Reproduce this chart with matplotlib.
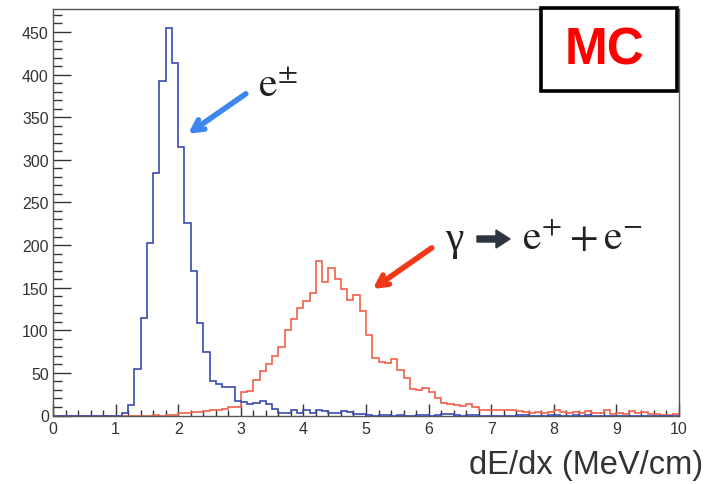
import numpy as np
import matplotlib
matplotlib.use("Agg")
import matplotlib.pyplot as plt
from matplotlib.patches import Rectangle, FancyArrow
from matplotlib.ticker import MultipleLocator

# ---- data (dE/dx histograms, 100 bins from 0 to 10 MeV/cm) ----
bin_edges = np.linspace(0, 10, 101)

electron_counts = [
    0, 0, 0, 0, 0, 0, 0, 0, 0, 0,
    0, 3, 12, 54, 114, 203, 285, 393, 455, 414,
    315, 226, 170, 109, 74, 41, 37, 34, 33, 17,
    16, 14, 15, 17, 13, 8, 3, 3, 6, 3,
    6, 3, 6, 5, 3, 3, 5, 4, 2, 2,
    1, 0, 1, 1, 0, 1, 0, 0, 1, 1,
    0, 1, 2, 2, 1, 0, 1, 1, 0, 0,
    0, 0, 0, 0, 1, 1, 0, 0, 0, 1,
    1, 0, 0, 1, 0, 1, 0, 0, 0, 0,
    0, 0, 0, 0, 0, 0, 0, 0, 0, 0,
]

gamma_counts = [
    0, 0, 0, 0, 0, 0, 0, 0, 0, 0,
    0, 0, 0, 0, 0, 0, 1, 0, 1, 1,
    3, 3, 4, 4, 5, 6, 6, 8, 10, 10,
    27, 29, 42, 52, 60, 70, 80, 100, 113, 126,
    134, 144, 181, 157, 173, 160, 149, 136, 141, 123,
    95, 67, 63, 62, 66, 53, 44, 31, 30, 32,
    27, 21, 15, 13, 12, 11, 14, 10, 6, 7,
    7, 7, 7, 6, 5, 4, 3, 4, 3, 4,
    6, 4, 3, 4, 3, 5, 3, 3, 7, 2,
    3, 2, 5, 3, 4, 2, 2, 1, 1, 2,
]

x_ticks = [0, 1, 2, 3, 4, 5, 6, 7, 8, 9, 10]
y_ticks = [0, 50, 100, 150, 200, 250, 300, 350, 400, 450]
x_label = "dE/dx (MeV/cm)"

plt.rcParams["mathtext.fontset"] = "stix"

# ---- figure ----
W, H = 705, 485
fig = plt.figure(figsize=(W / 100, H / 100), dpi=100)
L, R, B, T = 53, 679, 416.5, 10
ax = fig.add_axes([L / W, 1 - B / H, (R - L) / W, (B - T) / H])

blue = "#3a4cb0"
red = "#f0614a"
ax.stairs(electron_counts, bin_edges, color=blue, lw=1.2, zorder=3)
ax.stairs(gamma_counts, bin_edges, color=red, lw=1.2, zorder=2)

ax.set_xlim(0, 10)
ax.set_ylim(0, 477)
ax.set_xticks(x_ticks)
ax.set_yticks(y_ticks)
ax.xaxis.set_minor_locator(MultipleLocator(0.2))
ax.yaxis.set_minor_locator(MultipleLocator(10))
tick_col = "#333333"
ax.tick_params(axis="x", which="major", direction="in", length=8.5, width=1.0,
               color="#333333", labelsize=11.5, labelcolor=tick_col, pad=4)
ax.tick_params(axis="x", which="minor", direction="in", length=4, width=1.0, color="#333333")
ax.tick_params(axis="y", which="major", direction="in", length=13, width=1.0,
               color="#333333", labelsize=11.5, labelcolor=tick_col, pad=3)
ax.tick_params(axis="y", which="minor", direction="in", length=6.5, width=1.0, color="#333333")
for lab in ax.get_xticklabels() + ax.get_yticklabels():
    lab.set_fontfamily("Liberation Sans")
for s in ax.spines.values():
    s.set_color("#555555")
    s.set_linewidth(1.0)

# x-axis label
fig.text(703 / W, 1 - 466 / H, x_label, ha="right", va="center",
         fontsize=23.5, color="#333333", family="Liberation Sans")

# annotation arrows
ax.annotate("", xy=(2.16, 330.6), xytext=(3.08, 377.5),
            arrowprops=dict(arrowstyle="->,head_length=0.75,head_width=0.4",
                            color="#3d86f0", lw=4, shrinkA=0, shrinkB=0,
                            capstyle="round", joinstyle="round"), zorder=5)
ax.annotate("", xy=(5.11, 148.5), xytext=(6.05, 196.7),
            arrowprops=dict(arrowstyle="->,head_length=0.75,head_width=0.4",
                            color="#f03818", lw=4, shrinkA=0, shrinkB=0,
                            capstyle="round", joinstyle="round"), zorder=5)

fig.text(258 / W, 1 - 97 / H, r"$\mathrm{e}^{\pm}$", fontsize=30, color="#222222",
         ha="left", va="baseline")
fig.text(445 / W, 1 - 250 / H, "γ", fontsize=30, color="#222222",
         family="Liberation Serif", ha="left", va="baseline")
fig.patches.append(FancyArrow(
    477 / W, 1 - 240 / H, 33 / W, 0, width=6 / H, head_width=18 / H,
    head_length=14 / W, length_includes_head=True, color="#2e3340",
    transform=fig.transFigure, figure=fig))
fig.text(522 / W, 1 - 250 / H, r"$\mathrm{e}^{+} + \mathrm{e}^{-}$", fontsize=30,
         color="#222222", ha="left", va="baseline")

# MC box
box = Rectangle((541 / W, 1 - 92 / H), 136 / W, 83 / H, transform=fig.transFigure,
                facecolor="white", edgecolor="black", lw=2.6, zorder=10)
fig.patches.append(box)
fig.text(605 / W, 1 - 51 / H, "MC", color="#ff0000", fontsize=37, fontweight="bold",
         family="Liberation Sans", ha="center", va="center", zorder=11)

fig.savefig("out.png", dpi=100)
